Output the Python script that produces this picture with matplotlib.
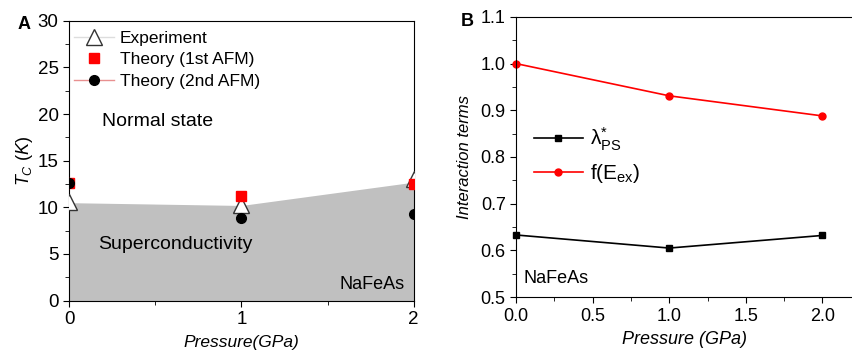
import matplotlib
matplotlib.use("Agg")
import matplotlib.pyplot as plt
from matplotlib.ticker import MultipleLocator, FixedLocator, FormatStrFormatter
from matplotlib.lines import Line2D

plt.rcParams['font.family'] = ['Liberation Sans', 'DejaVu Sans']
plt.rcParams['mathtext.fontset'] = 'custom'
plt.rcParams['mathtext.rm'] = 'Liberation Sans'
plt.rcParams['mathtext.it'] = 'Liberation Sans:italic'
plt.rcParams['mathtext.bf'] = 'Liberation Sans:bold'

# Panel A data
pressure_a = [0, 1, 2]
tc_fill = [10.5, 10.2, 12.7]
tc_experiment = [10.6, 10.3, 13.0]
tc_theory_1st = [12.6, 11.2, 12.5]
tc_theory_2nd = [12.6, 8.9, 9.3]

# Panel B data
pressure_b = [0.0, 1.0, 2.0]
lambda_ps = [0.633, 0.605, 0.632]
f_eex = [1.000, 0.931, 0.888]

fig = plt.figure(figsize=(8.53, 3.52), dpi=100)
axA = fig.add_axes([0.081, 0.146, 0.404, 0.795])
axB = fig.add_axes([0.605, 0.156, 0.395, 0.796])

# ---- Panel A ----
axA.fill_between(pressure_a, 0, tc_fill, color='#c0c0c0', lw=0, zorder=1)
axA.plot(pressure_a, tc_experiment, ls='none', marker='^', ms=11, mfc='white',
         mec='#333333', mew=1.0, zorder=3)
axA.plot(pressure_a, tc_theory_1st, ls='none', marker='s', ms=7, mfc='red',
         mec='red', zorder=4)
axA.plot(pressure_a, tc_theory_2nd, ls='none', marker='o', ms=7, mfc='black',
         mec='black', zorder=5)
axA.set_xlim(0, 2)
axA.set_ylim(0, 30)
axA.xaxis.set_major_locator(FixedLocator([0, 1, 2]))
axA.xaxis.set_minor_locator(FixedLocator([0.5, 1.5]))
axA.yaxis.set_major_locator(MultipleLocator(5))
axA.yaxis.set_minor_locator(MultipleLocator(2.5))
axA.tick_params(which='both', direction='out', labelsize=13.5)
axA.tick_params(which='major', length=4)
axA.tick_params(which='minor', length=3)
axA.set_xlabel('Pressure(GPa)', style='italic', fontsize=12.5, labelpad=5)
axA.set_ylabel('$T_C$ $(K)$', fontsize=13, labelpad=2)

hA = [Line2D([], [], color='#dddddd', lw=1, marker='^', ms=11, mfc='white', mec='#333333'),
      Line2D([], [], color='none', marker='s', ms=7, mfc='red', mec='red'),
      Line2D([], [], color='#e89090', lw=1, marker='o', ms=7, mfc='black', mec='black')]
axA.legend(hA, ['Experiment', 'Theory (1st AFM)', 'Theory (2nd AFM)'],
           loc='upper left', bbox_to_anchor=(0.013, 0.965), frameon=False,
           fontsize=12.5, handlelength=2.3, handletextpad=0.35,
           labelspacing=0.38, borderaxespad=0, borderpad=0)

axA.text(0.19, 19.2, 'Normal state', fontsize=14, va='center')
axA.text(0.17, 6.0, 'Superconductivity', fontsize=14, va='center')
axA.text(1.57, 1.68, 'NaFeAs', fontsize=13, va='center')
fig.text(0.021, 0.918, 'A', fontsize=13, fontweight='bold')

# ---- Panel B ----
axB.plot(pressure_b, lambda_ps, color='black', lw=1.2, marker='s', ms=4.5,
         label=r'$\mathrm{λ^{*}_{PS}}$', clip_on=False)
axB.plot(pressure_b, f_eex, color='red', lw=1.2, marker='o', ms=5,
         label=r'$\mathrm{f(E_{ex})}$', clip_on=False)
axB.set_xlim(0, 2.2)
axB.set_ylim(0.5, 1.1)
axB.xaxis.set_major_locator(FixedLocator([0.0, 0.5, 1.0, 1.5, 2.0]))
axB.xaxis.set_minor_locator(FixedLocator([0.25, 0.75, 1.25, 1.75]))
axB.yaxis.set_major_locator(MultipleLocator(0.1))
axB.yaxis.set_minor_locator(MultipleLocator(0.05))
axB.xaxis.set_major_formatter(FormatStrFormatter('%.1f'))
axB.yaxis.set_major_formatter(FormatStrFormatter('%.1f'))
axB.tick_params(which='both', direction='out', labelsize=13)
axB.tick_params(which='major', length=4)
axB.tick_params(which='minor', length=3)
axB.set_xlabel('Pressure (GPa)', style='italic', fontsize=13, labelpad=5)
axB.set_ylabel('Interaction terms', style='italic', fontsize=12, labelpad=6)
axB.legend(loc='center left', bbox_to_anchor=(0.053, 0.505), frameon=False,
           fontsize=15, handlelength=2.35, handletextpad=0.35, labelspacing=0.45,
           borderaxespad=0, borderpad=0)
axB.text(0.05, 0.53, 'NaFeAs', fontsize=13)
fig.text(0.540, 0.925, 'B', fontsize=13, fontweight='bold')

fig.savefig('out.png', dpi=100)
